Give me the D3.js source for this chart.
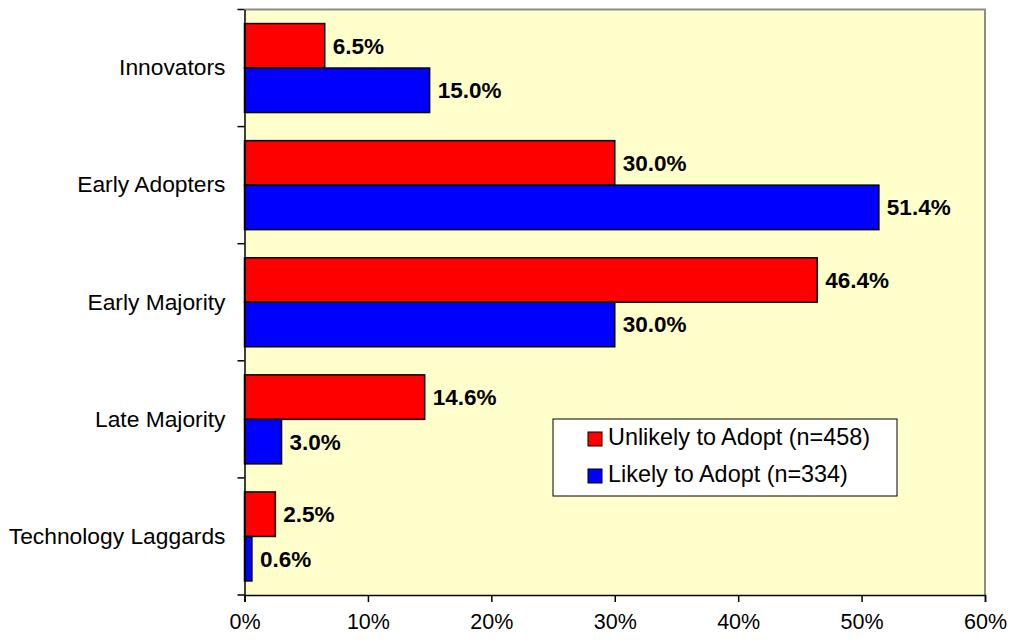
<!DOCTYPE html>
<html>
<head>
<meta charset="utf-8">
<script src="https://cdn.jsdelivr.net/npm/d3@7"></script>
<style>
    body { margin: 0; background: #fff; }
    svg { display: block; font-family: Arial, "Liberation Sans", sans-serif; }
</style>
</head>
<body>
<svg id="chart" width="1010" height="642"></svg>
<script>
// chart data
var categories = ["Innovators", "Early Adopters", "Early Majority", "Late Majority", "Technology Laggards"];
var seriesNames = ["Unlikely to Adopt (n=458)", "Likely to Adopt (n=334)"];
var unlikelyValues = [6.5, 30.0, 46.4, 14.6, 2.5];
var likelyValues = [15.0, 51.4, 30.0, 3.0, 0.6];
var xTicks = [0, 10, 20, 30, 40, 50, 60];
var colors = ["#ff0000", "#0000ff"];

var svg = d3.select("#chart"),
    margin = {top: 9.5, right: 25, bottom: 47, left: 244.5},
    width = +svg.attr("width") - margin.left - margin.right,
    height = +svg.attr("height") - margin.top - margin.bottom;

var x = d3.scaleLinear().domain([0, 60]).range([0, width]);

var y = d3.scaleBand().domain(categories).range([0, height])
    .paddingInner(0.24).paddingOuter(0.12);

var ySub = d3.scaleBand().domain([0, 1]).range([0, y.bandwidth()]);

var g = svg.append("g")
    .attr("transform", "translate(" + margin.left + "," + margin.top + ")");

// plot background
g.append("rect")
    .attr("width", width)
    .attr("height", height)
    .attr("fill", "#ffffcc");

// grey frame on top and right
g.append("path")
    .attr("d", "M0,0H" + width + "V" + height)
    .attr("fill", "none")
    .attr("stroke", "#8c8c8c")
    .attr("stroke-width", 2);

var data = categories.map(function (c, i) {
    return {cat: c, values: [unlikelyValues[i], likelyValues[i]]};
});

var groups = g.selectAll(".group")
    .data(data)
    .enter().append("g")
    .attr("class", "group")
    .attr("transform", function (d) { return "translate(0," + y(d.cat) + ")"; });

groups.selectAll("rect")
    .data(function (d) { return d.values; })
    .enter().append("rect")
    .attr("x", x(0))
    .attr("y", function (d, i) { return ySub(i); })
    .attr("width", function (d) { return x(d) - x(0); })
    .attr("height", ySub.bandwidth())
    .attr("fill", function (d, i) { return colors[i]; })
    .attr("stroke", "#000")
    .attr("stroke-width", 1.5);

groups.selectAll("text")
    .data(function (d) { return d.values; })
    .enter().append("text")
    .attr("x", function (d) { return x(d) + 8; })
    .attr("y", function (d, i) { return ySub(i) + ySub.bandwidth() / 2 + 8; })
    .style("font-size", "22.5px")
    .style("font-weight", "bold")
    .text(function (d) { return d.toFixed(1) + "%"; });

// x axis
var xAxis = g.append("g")
    .attr("transform", "translate(0," + height + ")")
    .call(d3.axisBottom(x).tickValues(xTicks).tickSize(7).tickPadding(12)
        .tickFormat(function (d) { return d + "%"; }));
xAxis.select(".domain").attr("stroke", "#000").attr("stroke-width", 1.5);
xAxis.selectAll(".tick line").attr("stroke", "#000").attr("stroke-width", 1.5);
xAxis.selectAll("text").style("font-size", "21.5px").attr("fill", "#000")
    .style("font-family", "Arial, 'Liberation Sans', sans-serif");

// y axis labels
var yAxis = g.append("g")
    .call(d3.axisLeft(y).tickSize(0).tickPadding(19));
yAxis.select(".domain").attr("stroke", "#000").attr("stroke-width", 1.5);
yAxis.selectAll("text").style("font-size", "22.8px").attr("fill", "#000")
    .style("font-family", "Arial, 'Liberation Sans', sans-serif");

// y ticks between categories
var boundaries = d3.range(categories.length + 1).map(function (i) { return i * y.step(); });
g.selectAll(".ytick")
    .data(boundaries)
    .enter().append("line")
    .attr("class", "ytick")
    .attr("x1", -7).attr("x2", 0)
    .attr("y1", function (d) { return d; })
    .attr("y2", function (d) { return d; })
    .attr("stroke", "#000")
    .attr("stroke-width", 1.5);

// legend
var legend = svg.append("g").attr("transform", "translate(553,419)");
legend.append("rect")
    .attr("width", 344)
    .attr("height", 77)
    .attr("fill", "#fff")
    .attr("stroke", "#000")
    .attr("stroke-width", 1);

var items = legend.selectAll(".item")
    .data(seriesNames)
    .enter().append("g")
    .attr("class", "item")
    .attr("transform", function (d, i) { return "translate(35," + (13 + i * 37) + ")"; });

items.append("rect")
    .attr("width", 14)
    .attr("height", 14)
    .attr("fill", function (d, i) { return colors[i]; })
    .attr("stroke", "#000")
    .attr("stroke-width", 1);

items.append("text")
    .attr("x", 20)
    .attr("y", 13)
    .style("font-size", "23.4px")
    .text(function (d) { return d; });
</script>
</body>
</html>
